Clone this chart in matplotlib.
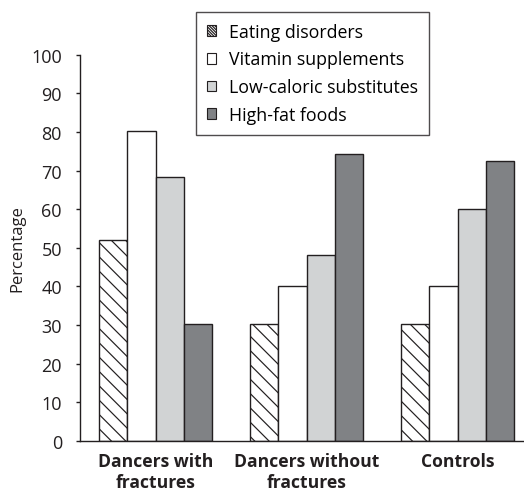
import numpy as np
import matplotlib.pyplot as plt
from matplotlib.patches import Patch

plt.rcParams['font.family'] = ['Open Sans', 'DejaVu Sans']

groups = ['Dancers with\nfractures', 'Dancers without\nfractures', 'Controls']
series = ['Eating disorders', 'Vitamin supplements', 'Low-caloric substitutes', 'High-fat foods']
eating = [52, 30.3, 30.2]
vitamin = [80.3, 40.1, 40.2]
lowcal = [68.3, 48.2, 60.1]
highfat = [30.3, 74.4, 72.5]

values = [eating, vitamin, lowcal, highfat]
colors = ['white', 'white', '#d1d3d4', '#808285']
hatches = ['\\\\', None, None, None]
ink = '#231f20'

# dpi picked so the hatch spacing matches; sizes below are given as if at 100 dpi
DPI = 86
k = 100 / DPI

def pt(v):
    return v * k

fig = plt.figure(figsize=(524 / DPI, 495 / DPI), dpi=DPI)
ax = fig.add_axes([80 / 524, 1 - 442 / 495, 1 - 80 / 524, (442 - 55.7) / 495])

x = np.arange(len(groups))
w = 0.186
for i, vals in enumerate(values):
    ax.bar(x + (i - 1.5) * w, vals, w, color=colors[i], edgecolor=ink,
           linewidth=pt(1.0), hatch=hatches[i])

ax.set_xlim(-0.5, 2.44)
ax.set_ylim(0, 100)
ax.set_yticks(range(0, 101, 10))
ax.tick_params(axis='y', labelsize=pt(13), length=pt(3), width=pt(1), colors=ink, pad=pt(10))
ax.set_xticks(x)
ax.set_xticklabels(groups, fontsize=pt(12.6), fontweight='bold', color=ink)
ax.tick_params(axis='x', length=0, pad=pt(8))
for s in ['top', 'right']:
    ax.spines[s].set_visible(False)
for s in ['left', 'bottom']:
    ax.spines[s].set_color(ink)
    ax.spines[s].set_linewidth(pt(1.0))
ax.set_ylabel('Percentage', fontsize=pt(12), color=ink, labelpad=pt(4))

handles = [Patch(facecolor=colors[i], edgecolor=ink, linewidth=pt(0.8),
                 hatch='\\' * 10 if hatches[i] else None) for i in range(len(series))]
leg = ax.legend(handles, series, loc='upper left', bbox_to_anchor=(196 / 524, 1 - 13 / 495),
                bbox_transform=fig.transFigure, fontsize=pt(12.8), frameon=True,
                fancybox=False, edgecolor=ink, handlelength=0.55,
                handleheight=0.55, handletextpad=0.7, labelspacing=0.55,
                borderpad=0.6, borderaxespad=0)
leg.get_frame().set_linewidth(pt(1.0))

fig.savefig('out.png', dpi=DPI)
